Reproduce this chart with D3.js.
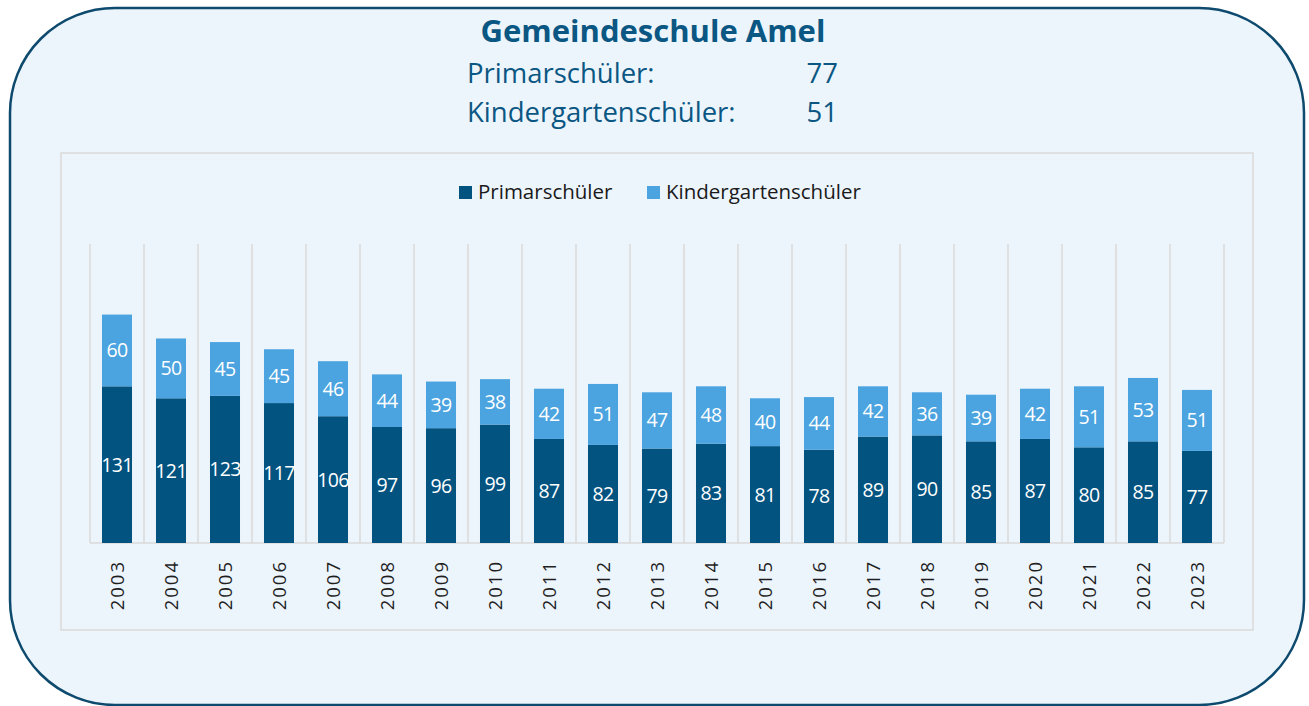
<!DOCTYPE html>
<html>
<head>
<meta charset="utf-8">
<script src="https://cdn.jsdelivr.net/npm/d3@7"></script>
<style>
  html, body { margin: 0; padding: 0; background: #ffffff; }
  svg { display: block; }
</style>
</head>
<body>
<svg id="chart" width="1309" height="706"></svg>
<script>
const years = ["2003","2004","2005","2006","2007","2008","2009","2010","2011","2012","2013","2014","2015","2016","2017","2018","2019","2020","2021","2022","2023"];
const primar = [131,121,123,117,106,97,96,99,87,82,79,83,81,78,89,90,85,87,80,85,77];
const kinder = [60,50,45,45,46,44,39,38,42,51,47,48,40,44,42,36,39,42,51,53,51];
const seriesNames = ["Primarschüler", "Kindergartenschüler"];
const seriesColors = ["#02537f", "#4ba3e0"];
const titleText = "Gemeindeschule Amel";
const summaryLabels = ["Primarschüler:", "Kindergartenschüler:"];
const summaryValues = [77, 51];

const svg = d3.select("#chart");
const font = "'Open Sans', sans-serif";

// outer rounded panel
svg.append("rect")
  .attr("x", 10).attr("y", 8).attr("width", 1294).attr("height", 697)
  .attr("rx", 105).attr("ry", 105)
  .attr("fill", "#edf5fc").attr("stroke", "#0d4a6e").attr("stroke-width", 2.5);

// title
svg.append("text")
  .attr("x", 653).attr("y", 42)
  .attr("text-anchor", "middle")
  .attr("font-family", font).attr("font-weight", "bold").attr("font-size", 31)
  .attr("fill", "#0b5783")
  .text(titleText);

summaryLabels.forEach((lab, i) => {
  const y = 83 + i * 39;
  svg.append("text")
    .attr("x", 467).attr("y", y)
    .attr("font-family", font).attr("font-size", 27.5)
    .attr("fill", "#0b5783")
    .text(lab);
  svg.append("text")
    .attr("x", 838).attr("y", y)
    .attr("text-anchor", "end")
    .attr("font-family", font).attr("font-size", 27.5)
    .attr("fill", "#0b5783")
    .text(summaryValues[i]);
});

// plot frame
svg.append("rect")
  .attr("x", 61).attr("y", 153).attr("width", 1192).attr("height", 477)
  .attr("fill", "#edf5fc").attr("stroke", "#d9d9d9").attr("stroke-width", 1.5);

// legend
const legendItems = [{x: 459, tx: 478}, {x: 647, tx: 666}];
seriesNames.forEach((name, i) => {
  svg.append("rect")
    .attr("x", legendItems[i].x).attr("y", 186).attr("width", 13).attr("height", 13)
    .attr("fill", seriesColors[i]);
  svg.append("text")
    .attr("x", legendItems[i].tx).attr("y", 199)
    .attr("font-family", font).attr("font-size", 20.5)
    .attr("fill", "#1a1a1a")
    .text(name);
});

// scales
const x = d3.scaleBand().domain(years).range([90, 1224]).paddingInner(0.444).paddingOuter(0.222);
const y = d3.scaleLinear().domain([0, 250]).range([543, 244]);

// vertical gridlines at category boundaries
const step = x.step();
const boundaries = d3.range(years.length + 1).map(i => 90 + i * step);
svg.append("g").selectAll("line").data(boundaries).join("line")
  .attr("x1", d => d).attr("x2", d => d)
  .attr("y1", y(250)).attr("y2", y(0))
  .attr("stroke", "#d9d9d9").attr("stroke-width", 1.5);

// baseline
svg.append("line")
  .attr("x1", 90).attr("x2", 1224).attr("y1", y(0)).attr("y2", y(0))
  .attr("stroke", "#d9d9d9").attr("stroke-width", 1.5);

// stacked data
const data = years.map((yr, i) => ({year: yr, p: primar[i], k: kinder[i]}));
const stack = d3.stack().keys(["p", "k"])(data);

const g = svg.append("g");
stack.forEach((layer, li) => {
  g.append("g").selectAll("rect").data(layer).join("rect")
    .attr("x", d => x(d.data.year))
    .attr("width", x.bandwidth())
    .attr("y", d => y(d[1]))
    .attr("height", d => y(d[0]) - y(d[1]))
    .attr("fill", seriesColors[li]);
  g.append("g").selectAll("text").data(layer).join("text")
    .attr("x", d => x(d.data.year) + x.bandwidth() / 2)
    .attr("y", d => (y(d[0]) + y(d[1])) / 2)
    .attr("dy", "0.36em")
    .attr("text-anchor", "middle")
    .attr("font-family", font).attr("font-size", 19.5)
    .attr("letter-spacing", "-0.6px")
    .attr("fill", "#ffffff")
    .text(d => d[1] - d[0]);
});

// x axis labels (rotated)
const xAxis = d3.axisBottom(x).tickSize(0).tickPadding(0);
const ax = svg.append("g").attr("transform", `translate(0,${y(0)})`).call(xAxis);
ax.select(".domain").remove();
ax.selectAll("text")
  .attr("font-family", font).attr("font-size", 18.5)
  .attr("letter-spacing", "2px")
  .attr("fill", "#1f1f1f")
  .attr("text-anchor", "end")
  .attr("transform", "rotate(-90)")
  .attr("x", -17).attr("y", 0).attr("dy", "0.36em");
</script>
</body>
</html>
